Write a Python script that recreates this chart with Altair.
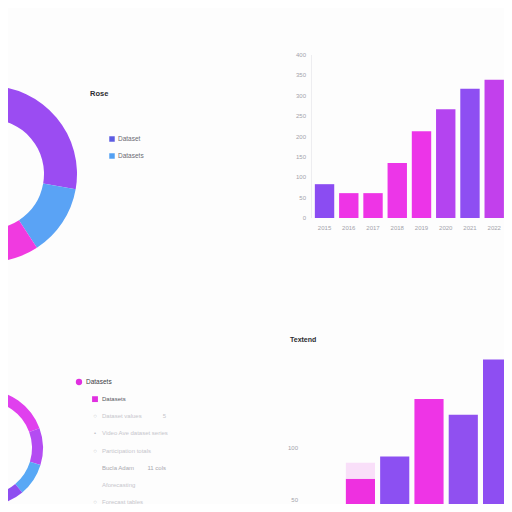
import altair as alt
import pandas as pd

FONT = "Liberation Sans"

# ---------------- data ----------------
# top-left donut (clockwise from 12 o'clock)
tl_segments = ["Dataset", "Datasets", "Segment C", "Segment D", "Segment E", "Segment F"]
tl_values = [100, 47, 63, 80, 60, 10]
tl_palette = ["#9b4cf2", "#5aa3f5", "#f03ae0", "#b04cf0", "#e24ae6", "#8cc6f6"]
tl_title = ["Rose"]
tl_legend_labels = ["Dataset", "Datasets"]
tl_legend_palette = ["#5d5ce2", "#52a0f3"]

# top-right bars
tr_years = ["2015", "2016", "2017", "2018", "2019", "2020", "2021", "2022", "2023"]
tr_values = [83, 61, 61, 135, 213, 267, 317, 339, 412]
tr_palette = ["#8b4cf2", "#ee34e6", "#ee34e6", "#ec36e8", "#ec34e8",
              "#b444f0", "#8e4ef2", "#c240ec", "#e040e4"]
tr_ticks = [0, 50, 100, 150, 200, 250, 300, 350, 400]
tr_labeled_years = tr_years[:8]

# bottom-left donut (clockwise from 12 o'clock)
bl_segments = ["A", "B", "C", "D", "E"]
bl_values = [70, 37, 33, 90, 130]
bl_palette = ["#e040ee", "#b44cf2", "#58a8f5", "#8e4ef0", "#c24cf0"]

# bottom-left list
bl_glyphs = ["", "", "○", "•", "○", "", "", "○"]
bl_texts = ["Datasets", "Datasets", "Dataset values", "Video Ave dataset series",
            "Participation totals", "Bucla Adam", "Aforecasting", "Forecast tables"]
bl_right = ["", "", "5", "", "", "11 cols", "", ""]
bl_tone = ["header", "sub", "faint", "faint", "faint", "mid", "faint", "faint"]

# bottom-right bars
br_cats = ["Q1", "Q2", "Q3", "Q4", "Q5"]
br_values = [75, 93, 140, 127, 172]
br_extra = [13, 0, 0, 0, 0]
br_palette = ["#ee30e0", "#8c50f2", "#ee34e6", "#9050f0", "#8e4ef2"]
br_extra_color = "#f9dff9"
br_title = ["Textend"]
br_ticks_mid = [100]
br_ticks_edge = [50]

AX_LABEL = "#a3a3ab"
W = H = 496

# ---------------- scales (pixel ranges inside one view) ----------------
tr_x = alt.Scale(type="band", domain=tr_years, range=[302, 525], paddingInner=0.2, paddingOuter=0.2)
tr_y = alt.Scale(domain=[0, 400], range=[210, 47], nice=False, zero=False)
br_x = alt.Scale(type="band", domain=br_cats, range=[331, 511], paddingInner=0.15, paddingOuter=0.2)
br_y = alt.Scale(domain=[50, 100], range=[501.4, 440], nice=False, zero=False)
tl_rows = alt.Scale(domain=[0, 1], range=[131, 148], nice=False, zero=False)
bl_rows = alt.Scale(domain=[0, 7], range=[374, 494], nice=False, zero=False)

# ---------------- top-left donut + legend ----------------
tl_df = pd.DataFrame({"seg": tl_segments, "value": tl_values, "idx": list(range(len(tl_values)))})
tl_arc = alt.Chart(tl_df).mark_arc(innerRadius=55, outerRadius=88, clip=True).encode(
    theta=alt.Theta("value:Q", stack=True),
    order=alt.Order("idx:Q"),
    color=alt.Color("seg:N", scale=alt.Scale(domain=tl_segments, range=tl_palette), legend=None),
    x=alt.value(-19), y=alt.value(166),
)
tl_leg_df = pd.DataFrame({"row": [0, 1], "label": tl_legend_labels})
tl_sym = alt.Chart(tl_leg_df).mark_square(size=30, opacity=1).encode(
    x=alt.value(104),
    y=alt.Y("row:Q", scale=tl_rows, axis=None),
    fill=alt.Fill("label:N", scale=alt.Scale(domain=tl_legend_labels, range=tl_legend_palette), legend=None),
)
tl_txt = alt.Chart(tl_leg_df).mark_text(align="left", baseline="middle", fontSize=6.5,
                                         color="#6b6b73", font=FONT).encode(
    x=alt.value(110),
    y=alt.Y("row:Q", scale=tl_rows, axis=None),
    text="label:N",
)
tl_ttl = alt.Chart(pd.DataFrame({"t": tl_title})).mark_text(
    align="left", baseline="middle", fontSize=7.5, fontWeight="bold", color="#2c2c31", font=FONT
).encode(x=alt.value(82), y=alt.value(86), text="t:N")

# ---------------- top-right bars ----------------
tr_df = pd.DataFrame({"year": tr_years, "value": tr_values})
tr_bars = alt.Chart(tr_df).mark_bar(clip=True).encode(
    x=alt.X("year:N", scale=tr_x, axis=None),
    y=alt.Y("value:Q", scale=tr_y, axis=None),
    color=alt.Color("year:N", scale=alt.Scale(domain=tr_years, range=tr_palette), legend=None),
)
tr_xlab = alt.Chart(pd.DataFrame({"year": tr_labeled_years})).mark_text(
    baseline="middle", fontSize=6, color=AX_LABEL, font=FONT
).encode(x=alt.X("year:N", scale=tr_x, axis=None), y=alt.value(220), text="year:N")
tr_ylab = alt.Chart(pd.DataFrame({"tick": tr_ticks})).mark_text(
    align="right", baseline="middle", fontSize=6, color=AX_LABEL, font=FONT
).encode(x=alt.value(298), y=alt.Y("tick:Q", scale=tr_y, axis=None), text="tick:Q")
tr_axis = alt.Chart(pd.DataFrame({"tick": [tr_ticks[0], tr_ticks[-1]]})).mark_rule(
    color="#ededf0", strokeWidth=1
).encode(x=alt.value(303.5), y=alt.Y("min(tick):Q", scale=tr_y, axis=None),
         y2=alt.Y2("max(tick):Q"))

# ---------------- bottom-left donut + list ----------------
bl_df = pd.DataFrame({"seg": bl_segments, "value": bl_values, "idx": list(range(len(bl_values)))})
bl_arc = alt.Chart(bl_df).mark_arc(innerRadius=47, outerRadius=58, clip=True).encode(
    theta=alt.Theta("value:Q", stack=True),
    order=alt.Order("idx:Q"),
    color=alt.Color("seg:N", scale=alt.Scale(domain=bl_segments, range=bl_palette), legend=None),
    x=alt.value(-23), y=alt.value(440),
)
list_df = pd.DataFrame({"row": list(range(len(bl_texts))), "glyph": bl_glyphs,
                        "text": bl_texts, "right": bl_right, "tone": bl_tone})
tone_scale = alt.Scale(domain=["header", "sub", "mid", "faint"],
                       range=["#3c3c44", "#55555e", "#a9a9b0", "#c6c6cc"])
head_df = list_df[list_df.row == 0]
sub_df = list_df[list_df.row >= 1]
bl_head_sym = alt.Chart(head_df).mark_circle(size=40, opacity=1, color="#e030e0").encode(
    x=alt.value(71), y=alt.Y("row:Q", scale=bl_rows, axis=None))
bl_sub_sym = alt.Chart(list_df[list_df.row == 1]).mark_square(size=34, opacity=1, color="#e030e0").encode(
    x=alt.value(87), y=alt.Y("row:Q", scale=bl_rows, axis=None))
bl_head_txt = alt.Chart(head_df).mark_text(align="left", baseline="middle", fontSize=6.5,
                                            font=FONT, clip=True).encode(
    x=alt.value(78), y=alt.Y("row:Q", scale=bl_rows, axis=None), text="text:N",
    color=alt.Color("tone:N", scale=tone_scale, legend=None))
bl_sub_txt = alt.Chart(sub_df).mark_text(align="left", baseline="middle", fontSize=6,
                                          font=FONT, clip=True).encode(
    x=alt.value(94), y=alt.Y("row:Q", scale=bl_rows, axis=None), text="text:N",
    color=alt.Color("tone:N", scale=tone_scale, legend=None))
bl_glyph_txt = alt.Chart(sub_df).mark_text(align="center", baseline="middle", fontSize=6,
                                            font=FONT, color="#c0c0c6", clip=True).encode(
    x=alt.value(87), y=alt.Y("row:Q", scale=bl_rows, axis=None), text="glyph:N")
bl_right_txt = alt.Chart(sub_df).mark_text(align="right", baseline="middle", fontSize=6,
                                            font=FONT, clip=True).encode(
    x=alt.value(158), y=alt.Y("row:Q", scale=bl_rows, axis=None), text="right:N",
    color=alt.Color("tone:N", scale=tone_scale, legend=None))

# ---------------- bottom-right bars ----------------
rows = []
for i, c in enumerate(br_cats):
    rows.append({"cat": c, "seg": 0, "part": c, "value": br_values[i]})
    if br_extra[i] > 0:
        rows.append({"cat": c, "seg": 1, "part": c + " extra", "value": br_extra[i]})
br_df = pd.DataFrame(rows)
part_domain = br_cats + [c + " extra" for c in br_cats]
part_range = br_palette + [br_extra_color] * len(br_cats)
br_bars = alt.Chart(br_df).mark_bar(clip=True).encode(
    x=alt.X("cat:N", scale=br_x, axis=None),
    y=alt.Y("value:Q", stack="zero", scale=br_y, axis=None),
    color=alt.Color("part:N", scale=alt.Scale(domain=part_domain, range=part_range), legend=None),
    order=alt.Order("seg:Q"),
)
br_ylab = alt.Chart(pd.DataFrame({"tick": br_ticks_mid})).mark_text(
    align="right", baseline="middle", fontSize=6, color=AX_LABEL, font=FONT
).encode(x=alt.value(290), y=alt.Y("tick:Q", scale=br_y, axis=None), text="tick:Q")
# lowest tick sits at the page edge: lift it so it stays inside the view
br_ylab_edge = alt.Chart(pd.DataFrame({"tick": br_ticks_edge})).mark_text(
    align="right", baseline="bottom", fontSize=6, color=AX_LABEL, font=FONT, dy=-6
).encode(x=alt.value(290), y=alt.Y("tick:Q", scale=br_y, axis=None), text="tick:Q")
br_ttl = alt.Chart(pd.DataFrame({"t": br_title})).mark_text(
    align="left", baseline="middle", fontSize=7, fontWeight="bold", color="#2c2c31", font=FONT
).encode(x=alt.value(282), y=alt.value(332), text="t:N")

chart = alt.layer(
    tl_arc, tl_sym, tl_txt, tl_ttl,
    tr_axis, tr_bars, tr_xlab, tr_ylab,
    bl_arc, bl_head_sym, bl_sub_sym, bl_head_txt, bl_sub_txt, bl_glyph_txt, bl_right_txt,
    br_bars, br_ylab, br_ylab_edge, br_ttl,
).resolve_scale(
    x="independent", y="independent", color="independent", fill="independent", theta="independent"
).properties(
    width=W, height=H, padding=0, background="#fdfdfd"
).configure(font=FONT).configure_view(strokeWidth=0)

chart.save("out.html", embed_options={"renderer": "svg", "actions": False})
